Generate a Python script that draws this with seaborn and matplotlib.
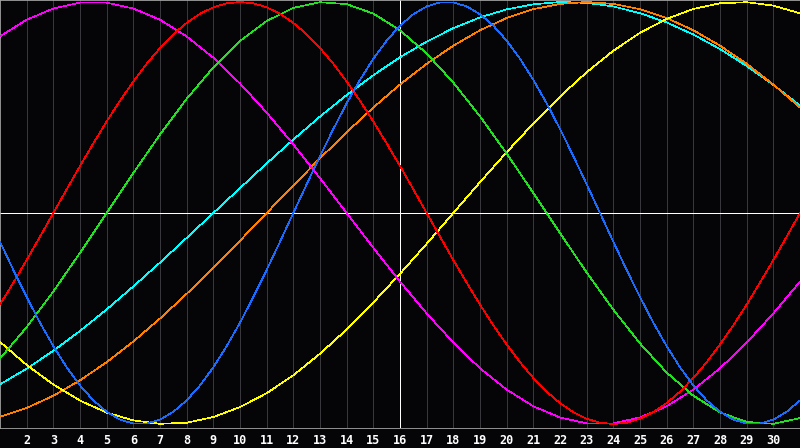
import numpy as np
import pandas as pd
import matplotlib
matplotlib.use("Agg")
import matplotlib.pyplot as plt
import seaborn as sns

# Days shown on the chart
days = list(range(1, 32))
half_days = [1 + 0.5 * i for i in range(61)]
tick_days = list(range(2, 31))

cycle_23 = [-0.136, -0.270, -0.398, -0.520, -0.631, -0.731, -0.817, -0.888, -0.942, -0.979,
            -0.998, -0.998, -0.979, -0.942, -0.888, -0.817, -0.731, -0.631, -0.520, -0.398,
            -0.270, -0.136, 0.000, 0.136, 0.270, 0.398, 0.520, 0.631, 0.731, 0.817,
            0.888, 0.942, 0.979, 0.998, 0.998, 0.979, 0.942, 0.888, 0.817, 0.731,
            0.631, 0.520, 0.398, 0.270, 0.136, 0.000, -0.136, -0.270, -0.398, -0.520,
            -0.631, -0.731, -0.817, -0.888, -0.942, -0.979, -0.998, -0.998, -0.979, -0.942,
            -0.888]
cycle_28 = [-0.434, -0.330, -0.223, -0.112, 0.000, 0.112, 0.223, 0.330, 0.434, 0.532,
            0.623, 0.707, 0.782, 0.847, 0.901, 0.944, 0.975, 0.994, 1.000, 0.994,
            0.975, 0.944, 0.901, 0.847, 0.782, 0.707, 0.623, 0.532, 0.434, 0.330,
            0.223, 0.112, 0.000, -0.112, -0.223, -0.330, -0.434, -0.532, -0.623, -0.707,
            -0.782, -0.847, -0.901, -0.944, -0.975, -0.994, -1.000, -0.994, -0.975, -0.944,
            -0.901, -0.847, -0.782, -0.707, -0.623, -0.532, -0.434, -0.330, -0.223, -0.112,
            0.000]
cycle_33 = [-0.690, -0.541, -0.372, -0.189, -0.000, 0.189, 0.372, 0.541, 0.690, 0.815,
            0.910, 0.972, 0.999, 0.990, 0.945, 0.866, 0.756, 0.618, 0.458, 0.282,
            0.095, -0.095, -0.282, -0.458, -0.618, -0.756, -0.866, -0.945, -0.990, -0.999, -0.972]
cycle_38 = [0.837, 0.916, 0.969, 0.997, 0.997, 0.969, 0.916, 0.837, 0.736, 0.614,
            0.476, 0.325, 0.165, 0.000, -0.165, -0.325, -0.476, -0.614, -0.736, -0.837,
            -0.916, -0.969, -0.997, -0.997, -0.969, -0.916, -0.837, -0.736, -0.614, -0.476, -0.325]
cycle_43 = [-0.611, -0.720, -0.813, -0.889, -0.946, -0.983, -0.999, -0.994, -0.967, -0.920,
            -0.854, -0.769, -0.667, -0.552, -0.424, -0.288, -0.146, -0.000, 0.146, 0.288,
            0.424, 0.552, 0.667, 0.769, 0.854, 0.920, 0.967, 0.994, 0.999, 0.983, 0.946]
cycle_48 = [-0.966, -0.924, -0.866, -0.793, -0.707, -0.609, -0.500, -0.383, -0.259, -0.131,
            -0.000, 0.131, 0.259, 0.383, 0.500, 0.609, 0.707, 0.793, 0.866, 0.924,
            0.966, 0.991, 1.000, 0.991, 0.966, 0.924, 0.866, 0.793, 0.707, 0.609, 0.500]
cycle_53 = [-0.812, -0.738, -0.653, -0.559, -0.457, -0.348, -0.235, -0.118, -0.000, 0.118,
            0.235, 0.348, 0.457, 0.559, 0.653, 0.738, 0.812, 0.876, 0.927, 0.965,
            0.989, 1.000, 0.996, 0.979, 0.947, 0.903, 0.846, 0.777, 0.697, 0.607, 0.509]

series_names = ["c53", "c48", "c43", "c38", "c33", "c28", "c23"]
series_days = [days, days, days, days, days, half_days, half_days]
series_values = [cycle_53, cycle_48, cycle_43, cycle_38, cycle_33, cycle_28, cycle_23]
series_colors = ["#00ffff", "#ff7f00", "#ffff00", "#ff00ff", "#22e022", "#ff0000", "#1a6cff"]

frames = []
for name, dd, vals in zip(series_names, series_days, series_values):
    frames.append(pd.DataFrame({"day": dd, "value": vals, "cycle": name}))
df = pd.concat(frames, ignore_index=True)

sns.set_theme(style="dark")
bg = "#050508"
fig = plt.figure(figsize=(8.0, 4.48), dpi=100, facecolor=bg)
ax = fig.add_axes([0.0, 20 / 448, 1.0, 428 / 448])
ax.set_facecolor(bg)

# grid lines
for d in tick_days:
    if d == 16:
        continue
    ax.axvline(d, color="#38383c", lw=0.5, zorder=1, antialiased=False)

sns.lineplot(data=df, x="day", y="value", hue="cycle", palette=dict(zip(series_names, series_colors)),
             hue_order=series_names, estimator=None, sort=False, lw=0.5, legend=False, ax=ax,
             zorder=3, antialiased=False)

ax.axvline(16, color="white", lw=0.6, zorder=2, antialiased=False)
ax.axhline(0, color="white", lw=0.6, zorder=2, antialiased=False)

ax.set_xlim(1, 31)
ax.set_ylim(-1.0189, 1.00948)
ax.set_xticks(tick_days)
ax.set_xticklabels([str(d) for d in tick_days], color="white", fontsize=8.5,
                   fontweight="bold", family=["DejaVu Sans Mono"])
ax.set_yticks([])
ax.tick_params(axis="x", length=0, pad=4)
ax.set_xlabel("")
ax.set_ylabel("")
ax.grid(False)

for s in ["left", "top", "bottom"]:
    ax.spines[s].set_visible(True)
    ax.spines[s].set_color("#a8a8a8")
    ax.spines[s].set_linewidth(0.6)
ax.spines["right"].set_visible(False)

fig.savefig("out.png", dpi=100, facecolor=bg)
